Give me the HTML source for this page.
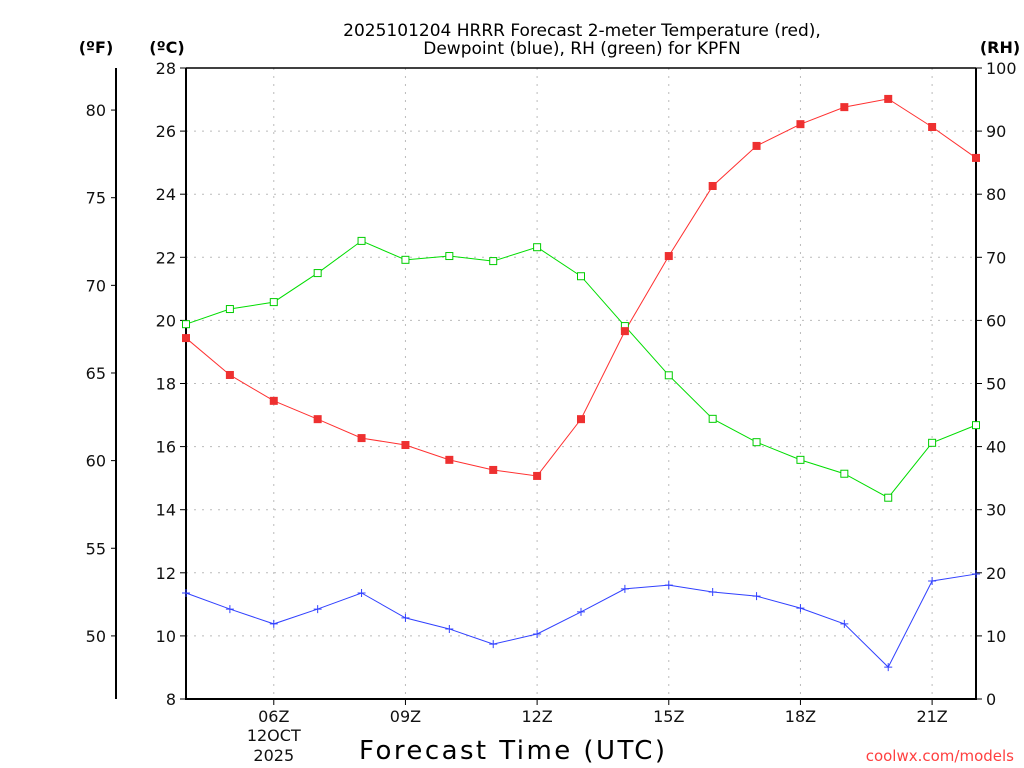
<!DOCTYPE html>
<html><head><meta charset="utf-8"><style>
html,body{margin:0;padding:0;background:#fff}
svg{display:block;font-family:"DejaVu Sans","Liberation Sans",sans-serif}
</style></head><body>
<svg id="chart" width="1024" height="768" viewBox="0 0 1024 768">
<rect width="1024" height="768" fill="#fff"/>
<text x="582" y="36" text-anchor="middle" font-size="17" fill="#000">2025101204 HRRR Forecast 2-meter Temperature (red),</text>
<text x="582" y="54" text-anchor="middle" font-size="17" fill="#000">Dewpoint (blue), RH (green) for KPFN</text>
<text x="96" y="53" text-anchor="middle" font-size="16" font-weight="bold">(ºF)</text>
<text x="167" y="53" text-anchor="middle" font-size="16" font-weight="bold">(ºC)</text>
<text x="1000" y="53" text-anchor="middle" font-size="16" font-weight="bold">(RH)</text>
<text x="512" y="759" text-anchor="middle" font-size="26" textLength="306">Forecast Time (UTC)</text>
<text x="1014" y="761" text-anchor="end" font-size="15" fill="#ff4040">coolwx.com/models</text>
<g id="grid"></g><g id="axes"></g><g id="series"></g>
</svg>
<script>
const hours = [4,5,6,7,8,9,10,11,12,13,14,15,16,17,18,19,20,21,22];
const tempC = [19.44,18.27,17.45,16.87,16.27,16.05,15.58,15.26,15.07,16.87,19.66,22.04,24.26,25.53,26.22,26.76,27.02,26.13,25.15];
const dewC = [11.36,10.85,10.38,10.85,11.36,10.57,10.22,9.74,10.06,10.76,11.49,11.61,11.39,11.26,10.88,10.38,9.01,11.74,11.96];
const rh = [59.4,61.8,62.9,67.5,72.6,69.6,70.2,69.4,71.6,67.0,59.1,51.3,44.4,40.7,37.9,35.7,31.9,40.6,43.4];
const cTicks = [8,10,12,14,16,18,20,22,24,26,28];
const fTicks = [50,55,60,65,70,75,80];
const rhTicks = [0,10,20,30,40,50,60,70,80,90,100];
const xTicks = [6,9,12,15,18,21];
const xTickLabels = ["06Z","09Z","12Z","15Z","18Z","21Z"];

const L=186,R=976,T=68,B=699;
const xS=h=>L+(h-4)*(R-L)/18;
const yC=c=>B-(c-8)*(B-T)/20;
const yF=f=>yC((f-32)/1.8);
const yRH=v=>B-v*(B-T)/100;
const NS="http://www.w3.org/2000/svg";
function mk(tag,attrs,parent){const e=document.createElementNS(NS,tag);for(const k in attrs)e.setAttribute(k,attrs[k]);parent.appendChild(e);return e;}
const grid=document.getElementById('grid'),axes=document.getElementById('axes'),ser=document.getElementById('series');

cTicks.forEach(c=>{
  const y=yC(c);
  if(c>8&&c<28){const g=mk('line',{x1:L,x2:R,y1:y,y2:y,stroke:'#bbb','stroke-dasharray':'2,6'},grid);
  
  }
  mk('line',{x1:L-6,x2:L,y1:y,y2:y,stroke:'#000'},axes);
  const t=mk('text',{x:L-10,y:y+6,'text-anchor':'end','font-size':16,fill:'#111'},axes);t.textContent=c;
  
  
});
xTicks.forEach((h,i)=>{
  const x=xS(h);
  const g=mk('line',{x1:x,x2:x,y1:T,y2:B,stroke:'#bbb','stroke-dasharray':'2,6'},grid);
  
  
  mk('line',{x1:x,x2:x,y1:B,y2:B+6,stroke:'#000'},axes);
  const t=mk('text',{x:x,y:B+23,'text-anchor':'middle','font-size':16,fill:'#111'},axes);t.textContent=xTickLabels[i];
  
  
});
[["12OCT",741],["2025",761]].forEach(d=>{const t=mk('text',{x:xS(6),y:d[1],'text-anchor':'middle','font-size':16,fill:'#111'},axes);t.textContent=d[0];
  
  });
fTicks.forEach(f=>{
  const y=yF(f);
  mk('line',{x1:111,x2:116,y1:y,y2:y,stroke:'#000'},axes);
  const t=mk('text',{x:106,y:y+6,'text-anchor':'end','font-size':16,fill:'#111'},axes);t.textContent=f;
  
  
});
rhTicks.forEach(v=>{
  const y=yRH(v);
  mk('line',{x1:R,x2:R+6,y1:y,y2:y,stroke:'#000'},axes);
  const t=mk('text',{x:R+10,y:y+6,'text-anchor':'start','font-size':16,fill:'#111'},axes);t.textContent=v;
  
  
});
const fa=mk('line',{x1:116,x2:116,y1:T,y2:B,stroke:'#000','stroke-width':2},axes);


mk('line',{x1:L,x2:R,y1:T,y2:T,stroke:'#000','stroke-width':1.5},axes);
mk('line',{x1:L,x2:L,y1:T,y2:B+1,stroke:'#000','stroke-width':2},axes);
mk('line',{x1:R,x2:R,y1:T,y2:B+1,stroke:'#000','stroke-width':2},axes);
mk('line',{x1:L-1,x2:R+1,y1:B,y2:B,stroke:'#000','stroke-width':2},axes);

function line(vals,yf,col,name){
  const p=mk('polyline',{points:vals.map((v,i)=>xS(hours[i])+','+yf(v)).join(' '),fill:'none',stroke:col,'stroke-width':1},ser);
  
  
}
line(rh,yRH,'#00dd00','rh-line');
line(tempC,yC,'#ff3030','temperature-line');
line(dewC,yC,'#3040ff','dewpoint-line');
rh.forEach((v,i)=>{const r=mk('rect',{x:xS(hours[i])-3.5,y:yRH(v)-3.5,width:7,height:7,fill:'#fff',stroke:'#00cc00','stroke-width':1},ser);
  
  });
tempC.forEach((v,i)=>{const r=mk('rect',{x:xS(hours[i])-4,y:yC(v)-4,width:8,height:8,fill:'#ee3030'},ser);
  
  });
dewC.forEach((v,i)=>{const x=xS(hours[i]),y=yC(v);const p=mk('path',{d:`M${x-4},${y}H${x+4}M${x},${y-4}V${y+4}`,stroke:'#3040ff','stroke-width':1},ser);
  
  });
</script>
</body></html>
